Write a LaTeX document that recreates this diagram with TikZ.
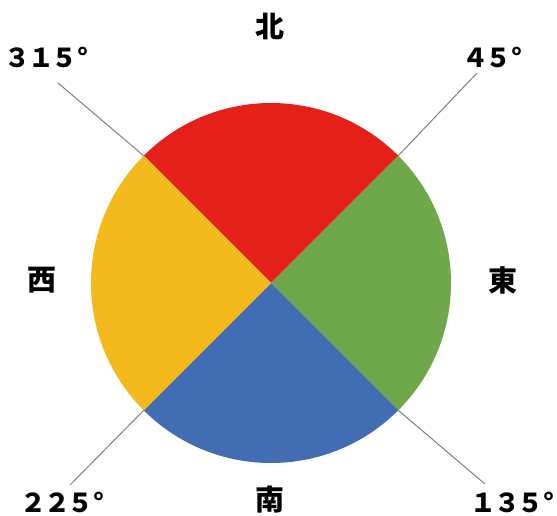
\documentclass[tikz,border=0pt]{standalone}
\usepackage{fontspec}
\usetikzlibrary{calc}
\newfontfamily\cjk{Noto Sans CJK JP}
\newfontfamily\cjkdeg[LetterSpace=-10]{Noto Sans CJK JP}
\definecolor{cred}{HTML}{E42019}
\definecolor{cgreen}{HTML}{6FA84A}
\definecolor{cblue}{HTML}{426DB3}
\definecolor{cyellow}{HTML}{F3B91D}
\definecolor{cline}{HTML}{808080}
\tikzset{
  dirlabel/.style={font=\cjk\bfseries\fontsize{29}{29}\selectfont, inner sep=0pt, text=black},
  deglabel/.style={font=\cjkdeg\bfseries\fontsize{26}{26}\selectfont, inner sep=0pt, text=black, anchor=base},
  leader/.style={draw=cline, line width=1pt}
}
\begin{document}
\begin{tikzpicture}[x=1pt,y=1pt]
\useasboundingbox (0,0) rectangle (557,515);
\coordinate (O) at (271,232);
\coordinate (jTL) at ($(O)+(135:180)$);
\coordinate (jTR) at ($(O)+(45:180)$);
\coordinate (jBR) at ($(O)+(-45:180)$);
\coordinate (jBL) at ($(O)+(-135:180)$);
% sectors
\fill[cred] (O) -- (jTL) arc[start angle=135, end angle=45, radius=180] -- cycle;
\fill[cgreen] (O) -- (jTR) arc[start angle=45, end angle=-45, radius=180] -- cycle;
\fill[cblue] (O) -- (jBR) arc[start angle=-45, end angle=-135, radius=180] -- cycle;
\fill[cyellow] (O) -- (jBL) arc[start angle=225, end angle=135, radius=180] -- cycle;
% leader line ends
\coordinate (eTL) at (58,432);
\coordinate (eTR) at (477,442);
\coordinate (eBL) at (70,30);
\coordinate (eBR) at (485,31);
\draw[leader] (jTL) -- (eTL);
\draw[leader] (jTR) -- (eTR);
\draw[leader] (jBL) -- (eBL);
\draw[leader] (jBR) -- (eBR);
% direction labels
\node[dirlabel] (north) at (270,488) {北};
\node[dirlabel] (south) at (270,15) {南};
\node[dirlabel] (west) at (42,235) {西};
\node[dirlabel] (east) at (503,235) {東};
% degree labels
\node[deglabel] (d315) at (41,447) {３１５\rlap{°}};
\node[deglabel] (d45) at (487,447) {４５\rlap{°}};
\node[deglabel] (d225) at (57,3) {２２５\rlap{°}};
\node[deglabel] (d135) at (507,3) {１３５\rlap{°}};
\end{tikzpicture}
\end{document}
